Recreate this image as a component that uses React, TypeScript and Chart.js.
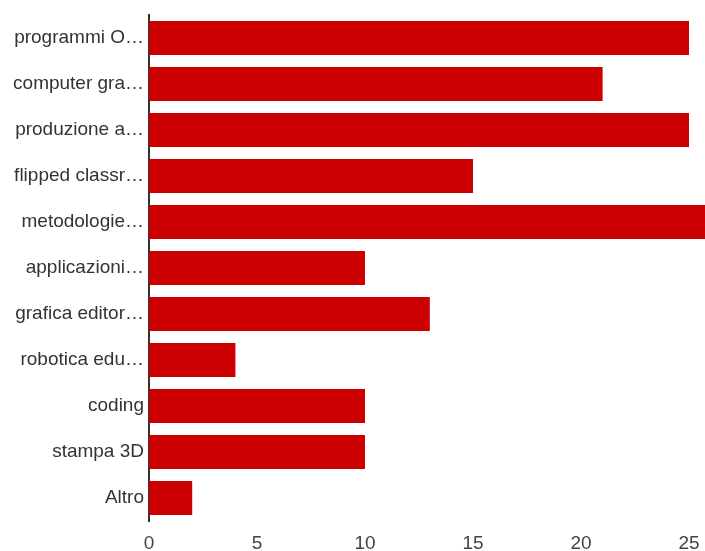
import React, { useEffect, useRef } from "react";
import { Chart, registerables } from "chart.js";

Chart.register(...registerables);

const categories = [
  "programmi O…",
  "computer gra…",
  "produzione a…",
  "flipped classr…",
  "metodologie…",
  "applicazioni…",
  "grafica editor…",
  "robotica edu…",
  "coding",
  "stampa 3D",
  "Altro",
];
const values = [25, 21, 25, 15, 26, 10, 13, 4, 10, 10, 2];
const xTicks = [0, 5, 10, 15, 20, 25];

export default function App() {
  const ref = useRef<HTMLCanvasElement>(null);
  useEffect(() => {
    if (!ref.current) return;
    const chart = new Chart(ref.current, {
      type: "bar",
      data: {
        labels: categories,
        datasets: [
          {
            data: values,
            backgroundColor: "#cc0000",
            borderWidth: 0,
            barPercentage: 0.74,
            categoryPercentage: 1,
          },
        ],
      },
      options: {
        indexAxis: "y",
        animation: false,
        responsive: false,
        maintainAspectRatio: false,
        layout: { padding: { top: 15, right: 0, left: 0, bottom: 0 } },
        plugins: { legend: { display: false }, tooltip: { enabled: false } },
        scales: {
          x: {
            min: 0,
            max: 25.74,
            grid: { display: false, drawTicks: false },
            border: { display: false },
            ticks: {
              stepSize: 5,
              padding: 11,
              color: "#444",
              font: { family: "Arial, 'Liberation Sans'", size: 19 },
            },
            afterBuildTicks: (axis: any) => {
              axis.ticks = xTicks.map((v) => ({ value: v }));
            },
            afterFit: (scale: any) => {
              scale.height = 30;
              scale.paddingLeft = 0;
              scale.paddingRight = 0;
            },
          },
          y: {
            grid: { display: false, drawTicks: false },
            border: { display: true, color: "#333", width: 2 },
            ticks: {
              padding: 5,
              color: "#333",
              font: { family: "Arial, 'Liberation Sans'", size: 19 },
            },
            afterFit: (scale: any) => {
              scale.width = 149;
              scale.paddingTop = 0;
              scale.paddingBottom = 0;
            },
          },
        },
      },
    });
    return () => chart.destroy();
  }, []);
  return (
    <div style={{ position: "absolute", left: 0, top: 0, width: 705, height: 551, background: "#fff" }}>
      <canvas ref={ref} width={705} height={551} style={{ display: "block" }} />
    </div>
  );
}
